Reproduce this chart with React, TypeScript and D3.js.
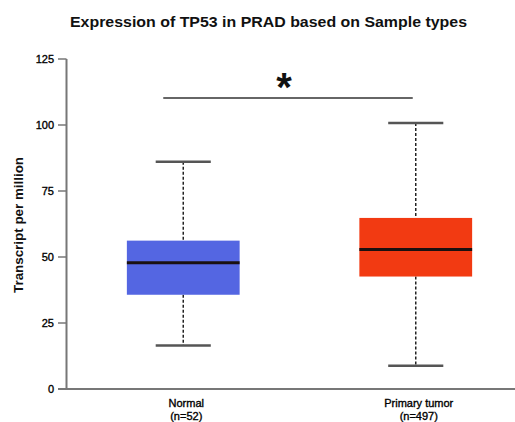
import React from 'react'
import * as d3 from 'd3'

const categories = ['Normal', 'Primary tumor']
const sampleSizes = ['(n=52)', '(n=497)']
const boxColors = ['#5466e2', '#f23a12']
// [min, q1, median, q3, max]
const normalStats = [16.5, 35.7, 47.8, 56.2, 86.1]
const tumorStats = [8.8, 42.6, 52.8, 64.8, 100.8]
const yTicks = [0, 25, 50, 75, 100, 125]
const significance = '*'

const W = 515
const H = 422
const FONT = 'Liberation Sans, Arial, Helvetica, sans-serif'

export default function App() {
  const y = d3.scaleLinear().domain([0, 125]).range([389, 59])
  const x = d3.scaleBand<string>().domain(categories).range([67, 532]).padding(0)
  const boxW = x.bandwidth() * 0.485
  const capW = x.bandwidth() * 0.237
  const axisX = 66.5
  const stats = [normalStats, tumorStats]

  const cx = (c: string) => (x(c) ?? 0) + x.bandwidth() / 2
  const sigX1 = cx(categories[0]) - 20
  const sigX2 = cx(categories[1]) - 3
  const sigY = y(110.2)

  return (
    <svg width={W} height={H} style={{ display: 'block', position: 'absolute', left: 0, top: 0, background: '#fff' }}>
      <text x={268.5} y={27} textAnchor="middle" fontFamily={FONT} fontWeight={700} fontSize={15} fill="#111"
        textLength={397} lengthAdjust="spacingAndGlyphs">
        Expression of TP53 in PRAD based on Sample types
      </text>

      {/* y axis */}
      <line x1={axisX} x2={axisX} y1={y(125)} y2={y(0)} stroke="#777" strokeWidth={2} />
      {yTicks.map((t) => (
        <g key={t}>
          <line x1={58} x2={axisX} y1={y(t)} y2={y(t)} stroke="#777" strokeWidth={1.5} />
          <text x={54} y={y(t) + 4} textAnchor="end" fontFamily={FONT} fontSize={11} fill="#000" stroke="#000" strokeWidth={0.35}>{t}</text>
        </g>
      ))}
      {/* x axis */}
      <line x1={58} x2={W} y1={y(0)} y2={y(0)} stroke="#777" strokeWidth={2} />

      <text transform={`translate(23,${225}) rotate(-90)`} textAnchor="middle" fontFamily={FONT} fontWeight={700} fontSize={12} fill="#111"
        textLength={136} lengthAdjust="spacingAndGlyphs">
        Transcript per million
      </text>

      {categories.map((c, i) => {
        const [mn, q1, md, q3, mx] = stats[i]
        const c0 = cx(c)
        return (
          <g key={c}>
            <line x1={c0} x2={c0} y1={y(mx)} y2={y(q3)} stroke="#222" strokeWidth={1.5} strokeDasharray="3,2" />
            <line x1={c0} x2={c0} y1={y(q1)} y2={y(mn)} stroke="#222" strokeWidth={1.5} strokeDasharray="3,2" />
            <line x1={c0 - capW / 2} x2={c0 + capW / 2} y1={y(mx)} y2={y(mx)} stroke="#555" strokeWidth={2.5} />
            <line x1={c0 - capW / 2} x2={c0 + capW / 2} y1={y(mn)} y2={y(mn)} stroke="#555" strokeWidth={2.5} />
            <rect x={c0 - boxW / 2} y={y(q3)} width={boxW} height={y(q1) - y(q3)} fill={boxColors[i]} />
            <line x1={c0 - boxW / 2} x2={c0 + boxW / 2} y1={y(md)} y2={y(md)} stroke="#1a1010" strokeWidth={3} />
            <text x={c0 + 3} y={407} textAnchor="middle" fontFamily={FONT} fontSize={11} fill="#000" stroke="#000" strokeWidth={0.35}>{c}</text>
            <text x={c0 + 3} y={420} textAnchor="middle" fontFamily={FONT} fontSize={11} fill="#000" stroke="#000" strokeWidth={0.35}>{sampleSizes[i]}</text>
          </g>
        )
      })}

      <line x1={sigX1} x2={sigX2} y1={sigY} y2={sigY} stroke="#333" strokeWidth={1.5} />
      <text x={(sigX1 + sigX2) / 2 - 4} y={sigY + 3} textAnchor="middle" fontFamily={FONT} fontWeight={700} fontSize={40} fill="#111">
        {significance}
      </text>
    </svg>
  )
}
